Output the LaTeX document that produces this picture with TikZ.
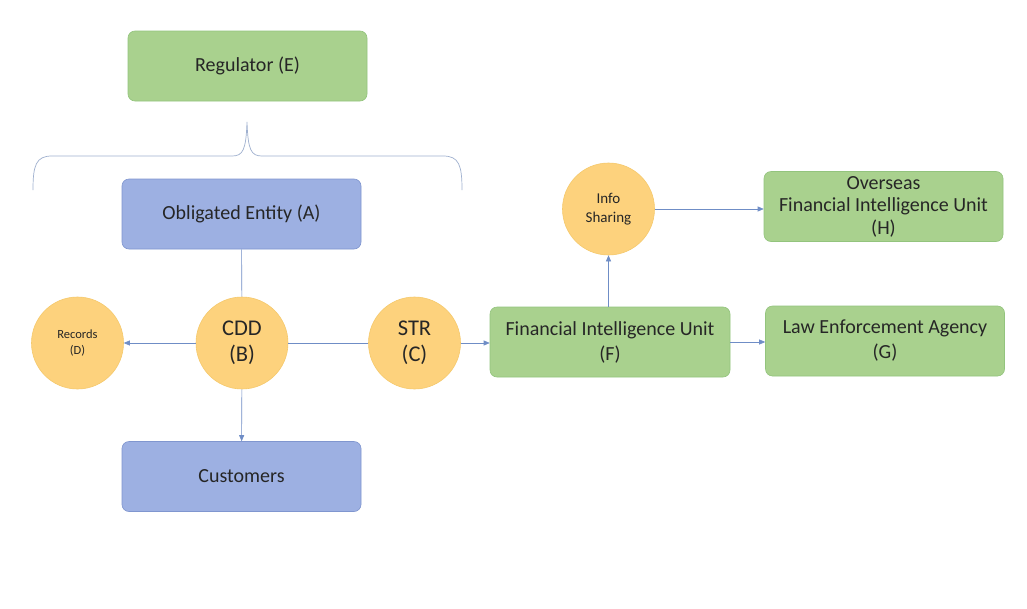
\documentclass[tikz,border=0pt]{standalone}
\usepackage{fontspec}
\setmainfont{Carlito}
\usetikzlibrary{arrows.meta}
\definecolor{gfill}{HTML}{A9D18E}
\definecolor{gdraw}{HTML}{93C47D}
\definecolor{bfill}{HTML}{9DB0E2}
\definecolor{bdraw}{HTML}{8096CF}
\definecolor{ofill}{HTML}{FDD27D}
\definecolor{odraw}{HTML}{F5C96C}
\definecolor{lin}{HTML}{6F8DC6}
\definecolor{brc}{HTML}{9FB0CF}
\definecolor{txt}{HTML}{262626}
\tikzset{
  gbox/.style={draw=gdraw, fill=gfill, rounded corners=7pt, minimum width=239pt, minimum height=70pt, align=center, text=txt, font=\fontsize{20}{25}\selectfont, line width=0.6pt},
  bbox/.style={draw=bdraw, fill=bfill, rounded corners=7pt, minimum width=239pt, minimum height=70pt, align=center, text=txt, font=\fontsize{20}{25}\selectfont, line width=0.6pt},
  ocirc/.style={circle, draw=odraw, fill=ofill, minimum size=92pt, inner sep=0pt, align=center, text=txt, line width=0.6pt},
  conn/.style={draw=lin, line width=0.6pt},
  arr/.style={conn, -{Triangle[length=6pt,width=5pt]}},
}
\begin{document}
\begin{tikzpicture}[x=1pt,y=-1pt]
\useasboundingbox (0,0) rectangle (1027,608);
\fill[white] (0,0) rectangle (1027,608);
\node[gbox] (E) at (247.5,66) {Regulator (E)};
\node[bbox] (A) at (241.5,214) {Obligated Entity (A)};
\node[bbox] (cust) at (241.5,476.5) {Customers};
\node[ocirc, font=\fontsize{22.5}{26}\selectfont] (B) at (242,343) {CDD\\(B)};
\node[ocirc, font=\fontsize{12.5}{16}\selectfont] (D) at (77.5,343) {Records\\(D)};
\node[ocirc, font=\fontsize{22.5}{26}\selectfont] (C) at (414.5,343) {STR\\(C)};
\node[gbox, minimum width=240pt] (F) at (610,342) {Financial Intelligence Unit\\(F)};
\node[gbox] (G) at (885,341) {Law Enforcement Agency\\(G)};
\node[ocirc, font=\fontsize{15}{19}\selectfont] (I) at (608.5,209) {Info\\Sharing};
\node[gbox, font=\fontsize{20}{22.5}\selectfont] (H) at (883.5,206.5) {Overseas\\Financial Intelligence Unit\\(H)};
% brace
\draw[brc, line width=0.7pt] (33,190) .. controls (33,165) and (36,156) .. (52,156) -- (232,156) .. controls (243,156) and (246,150) .. (247,122)
  .. controls (248,150) and (251,156) .. (262,156) -- (443,156) .. controls (459,156) and (462,165) .. (462,190);
% connectors
\draw[conn] (A) -- (B);
\draw[arr] (B) -- (D);
\draw[conn] (B) -- (C);
\draw[arr] (C) -- (C -| F.west);
\draw[arr] (B) -- (cust);
\draw[arr] (F.north -| I) -- (I);
\draw[arr] (I) -- (I -| H.west);
\draw[arr] (F.east) -- (F.east -| G.west);
\end{tikzpicture}
\end{document}
